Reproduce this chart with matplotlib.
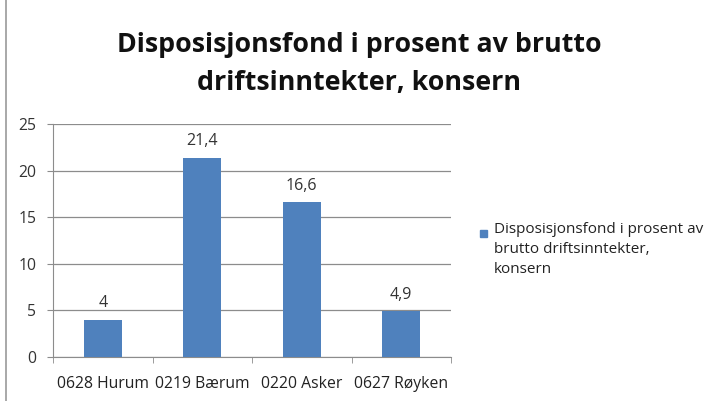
import matplotlib.pyplot as plt
from matplotlib.lines import Line2D
from matplotlib.patches import Rectangle

categories = ["0628 Hurum", "0219 Bærum", "0220 Asker", "0627 Røyken"]
values = [4.0, 21.4, 16.6, 4.9]
value_labels = ["4", "21,4", "16,6", "4,9"]
series_name = "Disposisjonsfond i prosent av\nbrutto driftsinntekter,\nkonsern"
title = "Disposisjonsfond i prosent av brutto\ndriftsinntekter, konsern"

W, H = 718, 401
fig = plt.figure(figsize=(W / 100, H / 100), dpi=100)
plt.rcParams["font.family"] = ["Open Sans", "DejaVu Sans"]

# plot area in pixels: left 53, right 451, top 124 (y=25), bottom 357 (y=0)
ax = fig.add_axes([53 / W, 1 - 357 / H, (451 - 53) / W, (357 - 124) / H])

x = range(len(categories))
ax.bar(x, values, width=0.38, color="#4F81BD", zorder=3)

for xi, v, lab in zip(x, values, value_labels):
    ax.text(xi, v + 0.9, lab, ha="center", va="bottom", fontsize=11.5, color="#333333")

ax.set_xlim(-0.5, len(categories) - 0.5)
ax.set_ylim(0, 25)
ax.set_yticks([0, 5, 10, 15, 20, 25])
ax.yaxis.grid(True, color="#8c8c8c", linewidth=0.9, zorder=0)

ax.set_xticks(list(x))
ax.set_xticklabels(categories, fontsize=11.3, color="#222222")
ax.tick_params(axis="x", length=0, pad=14)
ax.set_xticks([i - 0.5 for i in range(len(categories) + 1)], minor=True)
ax.tick_params(axis="x", which="minor", length=4, color="#8c8c8c")
ax.tick_params(axis="y", length=4, color="#8c8c8c", labelsize=11.3, labelcolor="#333333", pad=8)

for side in ["top", "right"]:
    ax.spines[side].set_visible(False)
ax.spines["left"].set_color("#8c8c8c")
ax.spines["bottom"].set_color("#8c8c8c")

fig.text(0.5, 1 - 64 / H, title, ha="center", va="center", fontsize=19.3,
         fontweight="bold", color="#111111", linespacing=1.6)

# legend, drawn by hand so the marker sits on the first line
fig.patches.append(Rectangle((480 / W, 1 - 237 / H), 7 / W, 7 / H,
                             transform=fig.transFigure, color="#4F81BD"))
fig.text(494 / W, 1 - 222 / H, series_name, ha="left", va="top",
         fontsize=11, color="#222222", linespacing=1.45)

# chart border on the left edge
fig.add_artist(Line2D([6 / W, 6 / W], [0, 1], color="#9a9a9a", linewidth=1.2))

plt.savefig("out.png", dpi=100)
